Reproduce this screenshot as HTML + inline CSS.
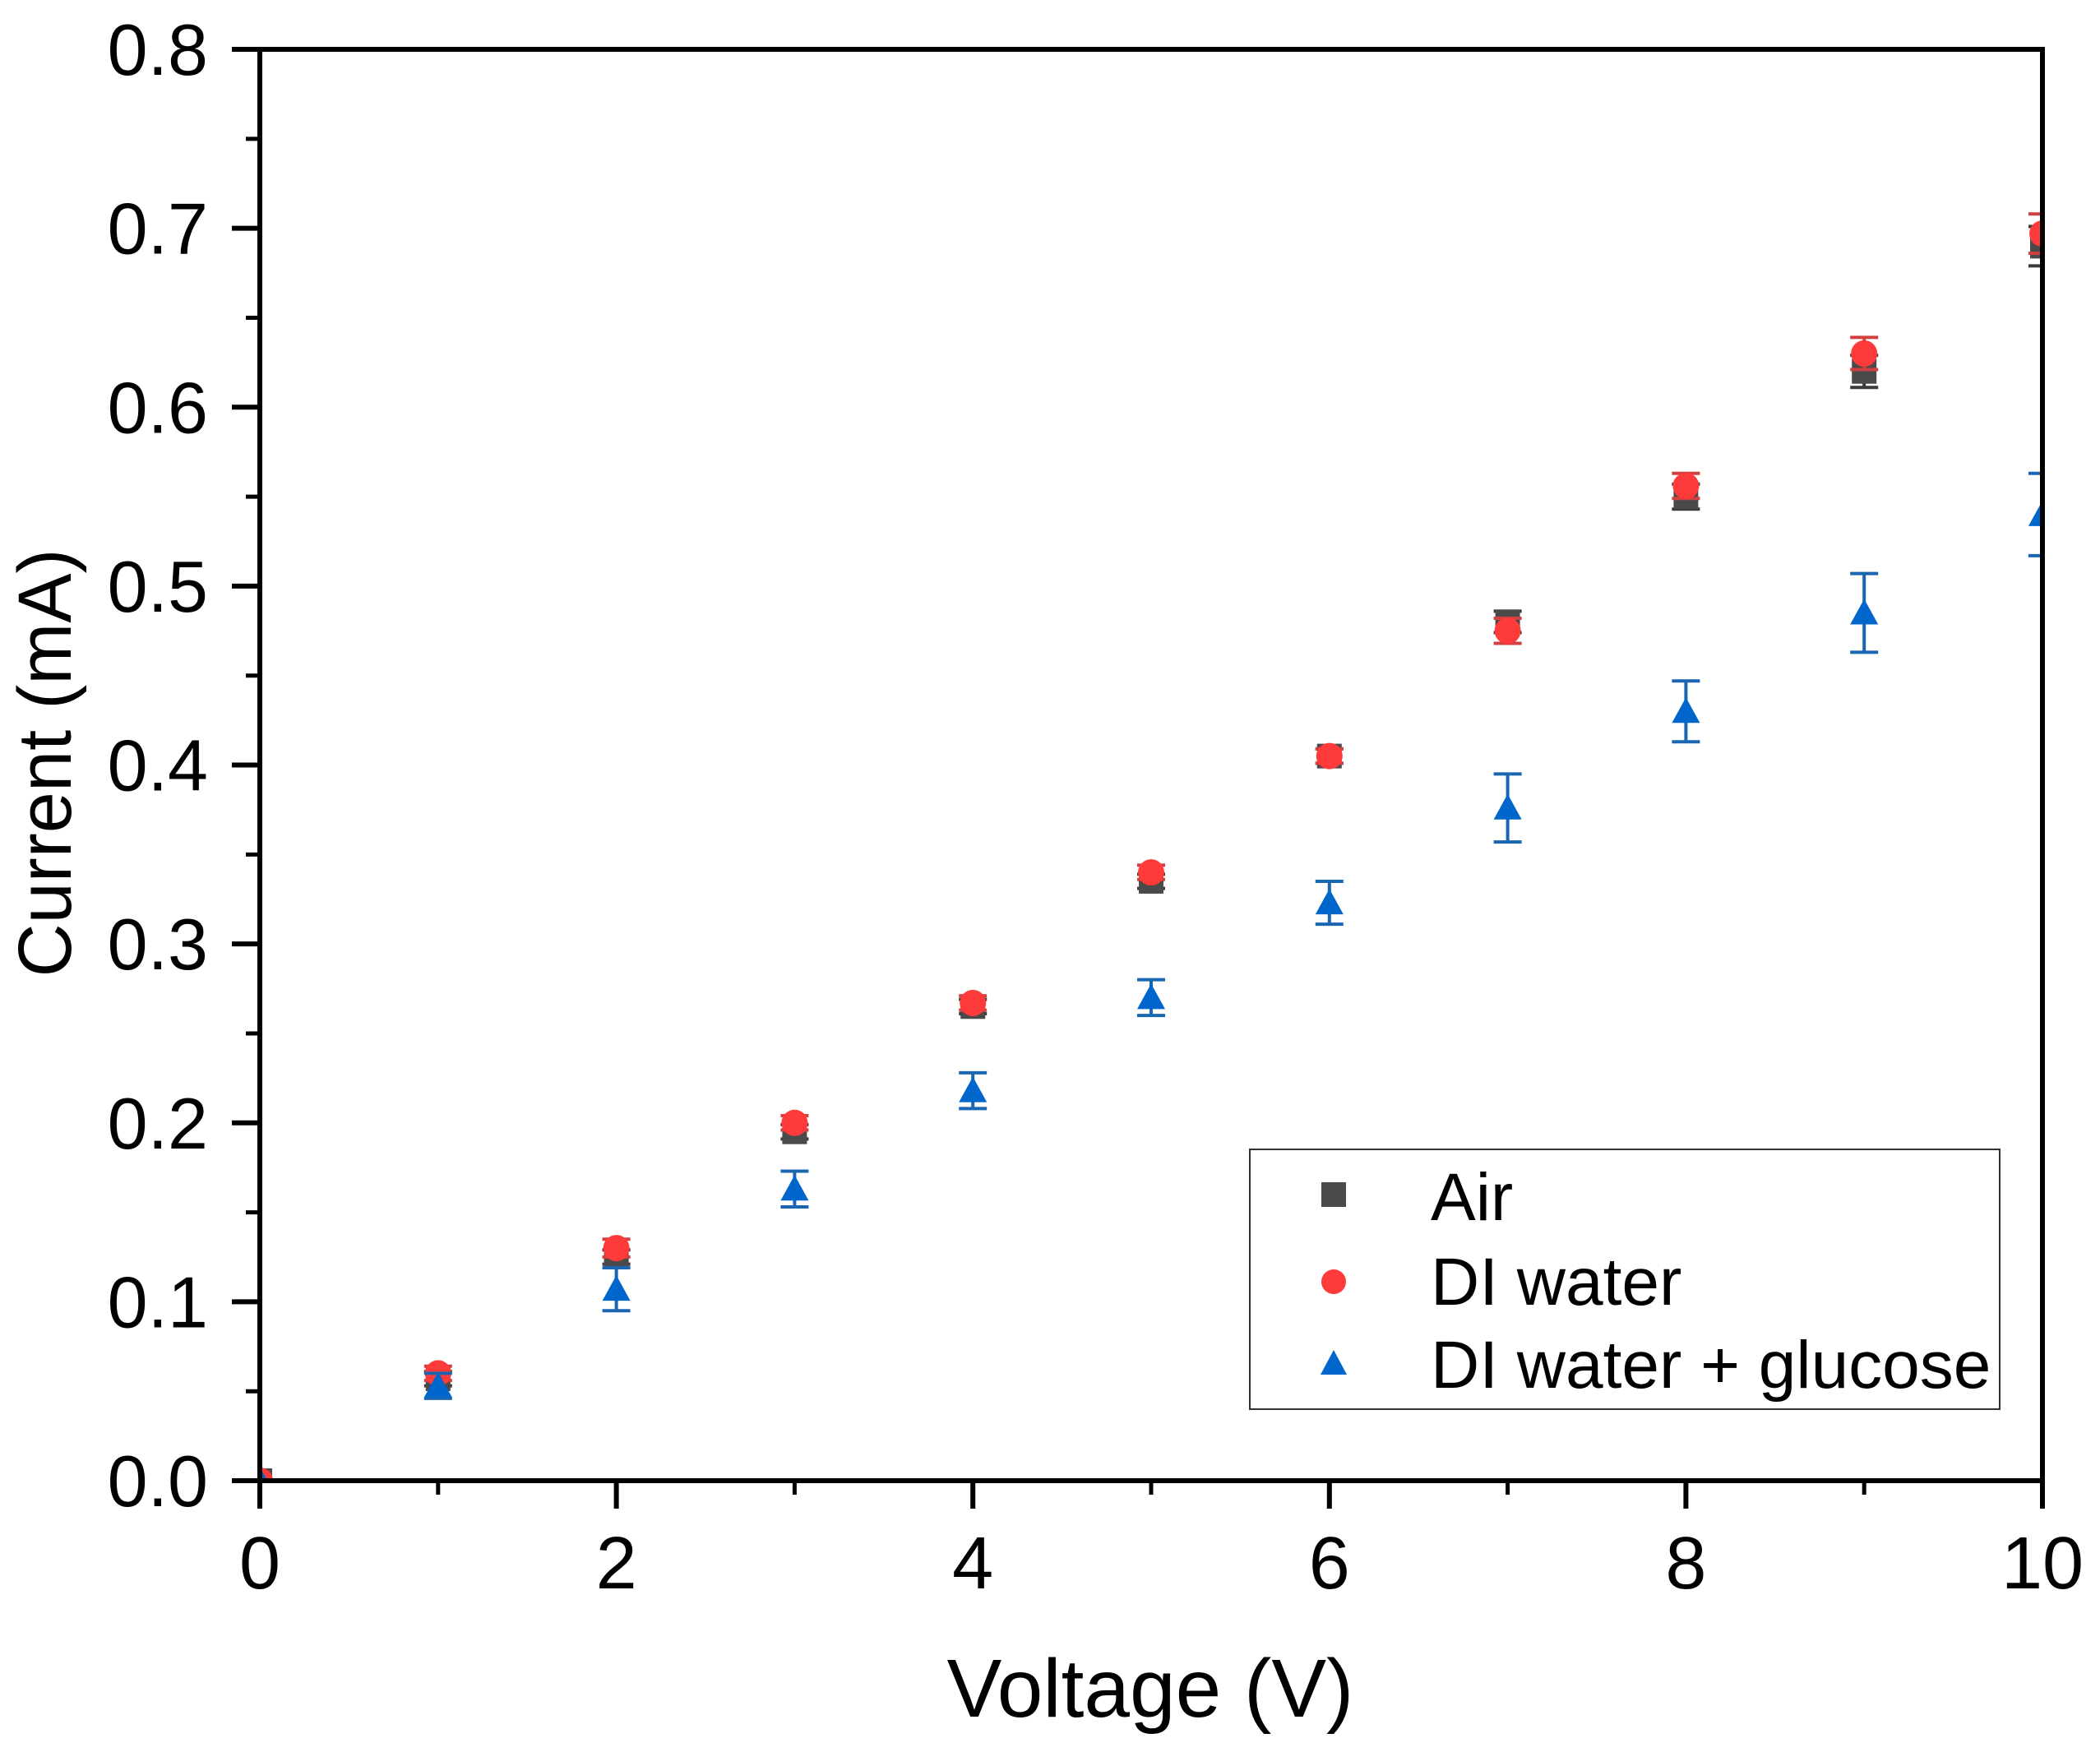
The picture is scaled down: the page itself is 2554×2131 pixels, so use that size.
<!DOCTYPE html>
<html><head><meta charset="utf-8"><style>
html,body{margin:0;padding:0;background:#fff;}
svg{display:block;font-family:"Liberation Sans",Arial,sans-serif;}
</style></head><body>
<svg id="chart" width="2554" height="2131" viewBox="0 0 2554 2131" xmlns="http://www.w3.org/2000/svg">
<rect width="2554" height="2131" fill="#fff"/>
<g id="plot"></g>
<g id="axes"></g>
<g id="legend">
  <rect x="1520" y="1398" width="912" height="316" fill="#fff" stroke="#333" stroke-width="2"/>
  <rect x="1607" y="1438" width="30" height="30" fill="#4a4a4a"/>
  <text x="1740" y="1484" font-size="82">Air</text>
  <circle cx="1622" cy="1559" r="15" fill="#ff3a3a"/>
  <text x="1740" y="1587" font-size="82">DI water</text>
  <polygon points="1622,1642 1638,1672 1606,1672" fill="#0066cc"/>
  <text x="1740" y="1688" font-size="82">DI water + glucose</text>
</g>
<text x="1399" y="2088" font-size="100" text-anchor="middle">Voltage (V)</text>
<text transform="translate(86,928) rotate(-90)" x="0" y="0" font-size="92" text-anchor="middle" textLength="521" lengthAdjust="spacingAndGlyphs">Current (mA)</text>
</svg>
<script>
const voltages = [0,1,2,3,4,5,6,7,8,9,10];
const airValues = [0,0.057,0.125,0.195,0.265,0.335,0.405,0.480,0.550,0.620,0.690];
const airErrors = [0,0.004,0.004,0.004,0.004,0.004,0.004,0.006,0.007,0.009,0.011];
const diValues = [0,0.060,0.130,0.200,0.267,0.340,0.405,0.475,0.556,0.630,0.697];
const diErrors = [0,0.004,0.005,0.004,0.004,0.004,0.004,0.007,0.007,0.009,0.011];
const glucoseValues = [0,0.053,0.107,0.163,0.218,0.270,0.323,0.376,0.430,0.485,0.540];
const glucoseErrors = [0,0.007,0.012,0.010,0.010,0.010,0.012,0.019,0.017,0.022,0.023];
const xTicks = [0,2,4,6,8,10];
const xTickLabels = ["0","2","4","6","8","10"];
const yTicks = [0,0.1,0.2,0.3,0.4,0.5,0.6,0.7,0.8];
const yTickLabels = ["0.0","0.1","0.2","0.3","0.4","0.5","0.6","0.7","0.8"];

const X0=316, X1=2484, Y0=1801, Y1=60;
const xs = v => X0 + (v-0)/(10-0)*(X1-X0);
const ys = v => Y0 - (v-0)/(0.8-0)*(Y0-Y1);
const NS="http://www.w3.org/2000/svg";
function mk(tag, attrs, parent){const e=document.createElementNS(NS,tag);for(const k in attrs)e.setAttribute(k,attrs[k]);parent.appendChild(e);return e;}

const plot=document.getElementById('plot');
const clip=mk('clipPath',{id:'clipP'},plot);
mk('rect',{x:X0,y:Y1,width:X1-X0,height:Y0-Y1},clip);
const pg=mk('g',{'clip-path':'url(#clipP)'},plot);

function series(vals, errs, color, ecolor, shape, name){
  const g=mk('g',{},pg);
  
  
  for(let i=0;i<voltages.length;i++){
    const cx=xs(voltages[i]), cy=ys(vals[i]);
    const yt=ys(vals[i]+errs[i]), yb=ys(vals[i]-errs[i]);
    const eb=mk('g',{stroke:ecolor,'stroke-width':4},g);
    
    
    mk('line',{x1:cx,y1:yt,x2:cx,y2:yb},eb);
    mk('line',{x1:cx-17,y1:yt,x2:cx+17,y2:yt},eb);
    mk('line',{x1:cx-17,y1:yb,x2:cx+17,y2:yb},eb);
    let m;
    if(shape==='square') m=mk('rect',{x:cx-15,y:cy-15,width:30,height:30,fill:color},g);
    else if(shape==='circle') m=mk('circle',{cx:cx,cy:cy,r:16,fill:color},g);
    else m=mk('polygon',{points:`${cx},${cy-17} ${cx+17},${cy+14} ${cx-17},${cy+14}`,fill:color},g);
    
    
  }
}
series(airValues, airErrors, '#4a4a4a', '#3a3a3a', 'square', 'air');
series(diValues, diErrors, '#ff3a3a', '#d04040', 'circle', 'di-water');
series(glucoseValues, glucoseErrors, '#0066cc', '#1a66b0', 'triangle', 'glucose');

const ax=document.getElementById('axes');
mk('rect',{x:X0,y:Y1,width:X1-X0,height:Y0-Y1,fill:'none',stroke:'#000','stroke-width':6},ax);
xTicks.forEach((t,i)=>{
  const x=xs(t);
  const l=mk('line',{x1:x,y1:Y0,x2:x,y2:Y0+34,stroke:'#000','stroke-width':6},ax);
  
  
  const tx=mk('text',{x:x,y:1932,'font-size':90,'text-anchor':'middle'},ax);
  tx.textContent=xTickLabels[i];
  
  
  if(i<xTicks.length-1){
    const xm=xs(t+1);
    const mm=mk('line',{x1:xm,y1:Y0,x2:xm,y2:Y0+17,stroke:'#000','stroke-width':5},ax);
    
    
  }
});
yTicks.forEach((t,i)=>{
  const y=ys(t);
  const l=mk('line',{x1:X0-34,y1:y,x2:X0,y2:y,stroke:'#000','stroke-width':6},ax);
  
  
  const tx=mk('text',{x:253,y:y+31,'font-size':88,'text-anchor':'end'},ax);
  tx.textContent=yTickLabels[i];
  
  
  if(i<yTicks.length-1){
    const ym=ys(t+0.05);
    const mm=mk('line',{x1:X0-17,y1:ym,x2:X0,y2:ym,stroke:'#000','stroke-width':5},ax);
    
    
  }
});
</script>
</body></html>
